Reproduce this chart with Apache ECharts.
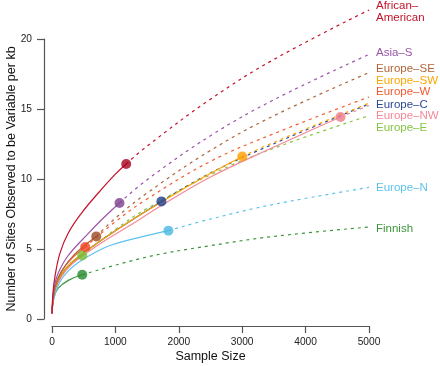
<!DOCTYPE html>
<html>
<head>
<meta charset="utf-8">
<script src="https://cdn.jsdelivr.net/npm/echarts@6/dist/echarts.min.js"></script>
<style>
html,body{margin:0;padding:0;background:#fff;}
#chart{width:440px;height:366px;}
</style>
</head>
<body>
<div id="chart"></div>
<script>
// Tick labels
const xTicks = [0, 1000, 2000, 3000, 4000, 5000];
const yTicks = [0, 5, 10, 15, 20];

// Population names (label text)
const populations = ['African–\nAmerican', 'Asia–S', 'Europe–SE', 'Europe–SW', 'Europe–W', 'Europe–C', 'Europe–NW', 'Europe–E', 'Europe–N', 'Finnish'];

// Observed curves [sample size, sites per kb]; last point is the dot
const africanAmericanObs = [[0,0.4],[15,1.86],[47,3.05],[126,4.71],[257,6.14],[467,7.57],[730,9.0],[992,10.31],[1170,11.07]];
const asiaSObs = [[0,0.4],[15,1.5],[40,2.4],[100,3.3],[250,4.5],[570,6.1],[830,7.3],[1065,8.29]];
const europeSEObs = [[0,0.4],[15,1.3],[50,2.3],[150,3.4],[350,4.6],[698,5.9]];
const europeSWObs = [[0,0.4],[15,1.3],[50,2.2],[150,3.2],[300,4.0],[480,4.65],[800,5.7],[1200,6.9],[1726,8.35],[2300,9.9],[3001,11.61]];
const europeWObs = [[0,0.4],[15,1.3],[50,2.3],[150,3.4],[330,4.4],[524,5.14]];
const europeCObs = [[0,0.4],[15,1.3],[50,2.2],[150,3.2],[300,4.0],[480,4.65],[800,5.7],[1200,6.9],[1726,8.4]];
const europeNWObs = [[0,0.4],[15,1.2],[50,2.1],[150,3.05],[300,3.85],[480,4.5],[800,5.5],[1200,6.6],[1726,8.1],[2500,10.14],[3500,12.28],[4551,14.43]];
const europeEObs = [[0,0.4],[15,1.3],[50,2.2],[150,3.2],[300,3.95],[477,4.54]];
const europeNObs = [[0,0.4],[15,1.1],[50,1.8],[130,2.7],[250,3.4],[420,4.05],[700,4.8],[950,5.3],[1400,5.85],[1836,6.31]];
const finnishObs = [[0,0.4],[10,1.0],[40,1.7],[99,2.21],[257,2.76],[477,3.16]];

// Projected (dashed) curves
const africanAmericanProj = [[1170,11.07],[1500,12.35],[2500,15.7],[3500,18.54],[5000,22.07]];
const asiaSProj = [[1065,8.29],[1500,9.95],[2500,13.09],[3500,15.66],[5000,18.9]];
const europeSEProj = [[698,5.9],[1000,7.2],[1500,9.0],[2500,12.04],[3500,14.52],[5000,17.6]];
const europeSWProj = [[3001,11.61],[3500,12.62],[5000,15.42]];
const europeWProj = [[524,5.14],[1000,6.95],[1500,8.57],[2500,11.26],[3500,13.24],[5000,15.86]];
const europeCProj = [[1726,8.4],[2500,10.43],[3500,12.52],[5000,15.36]];
const europeNWProj = [[4551,14.43],[5000,15.25]];
const europeEProj = [[477,4.54],[1000,6.4],[1500,7.9],[2500,10.3],[3500,12.2],[5000,14.52]];
const europeNProj = [[1836,6.31],[2500,7.14],[3500,8.19],[5000,9.4]];
const finnishProj = [[477,3.16],[1500,4.43],[2500,5.24],[3500,5.9],[5000,6.57]];

const observed = [africanAmericanObs, asiaSObs, europeSEObs, europeSWObs, europeWObs, europeCObs, europeNWObs, europeEObs, europeNObs, finnishObs];
const projected = [africanAmericanProj, asiaSProj, europeSEProj, europeSWProj, europeWProj, europeCProj, europeNWProj, europeEProj, europeNProj, finnishProj];

const lineColors = ['#c4122b', '#9a55a8', '#b0653a', '#ffa500', '#f25a2e', '#2d4a94', '#f28a98', '#86c543', '#5cc2ec', '#3c963c'];
const dotColors  = ['#a8001c', '#7d3f8e', '#9c4a26', '#ff9e00', '#f04422', '#1d3c8c', '#ee7d87', '#76bd33', '#4cb8e0', '#238a2a'];
const labelOffsets = [[0,2],[0,-2],[0,-4],[0,-22],[0,-5],[0,1],[0,10],[0,12],[0,0],[0,2]];
const drawOrder = [9, 8, 7, 6, 5, 4, 3, 2, 1, 0];

const series = [];
drawOrder.forEach(function (i) {
  series.push({
    type: 'line', data: observed[i], smooth: 0.4, showSymbol: false, clip: false,
    lineStyle: { color: lineColors[i], width: 1.2 }, silent: true, z: 2
  });
  series.push({
    type: 'line', data: projected[i], smooth: 0.4, showSymbol: false, clip: false,
    lineStyle: { color: lineColors[i], width: 1.2, type: [3, 4] }, silent: true, z: 2,
    endLabel: {
      show: true, formatter: populations[i], color: lineColors[i],
      fontFamily: 'Liberation Sans, Arial, sans-serif', fontSize: 11.5,
      distance: 7, offset: labelOffsets[i], lineHeight: 12, align: 'left'
    }
  });
  series.push({
    type: 'scatter', data: [observed[i][observed[i].length - 1]], symbol: 'circle', symbolSize: 10,
    itemStyle: { color: dotColors[i] }, silent: true, z: 3
  });
});

const chart = echarts.init(document.getElementById('chart'), null, { renderer: 'canvas' });
chart.setOption({
  animation: false,
  backgroundColor: '#ffffff',
  grid: { left: 52, right: 71, top: 39, bottom: 47, containLabel: false, outerBoundsMode: 'none' },
  xAxis: {
    type: 'value', min: xTicks[0], max: xTicks[xTicks.length - 1], interval: 1000,
    offset: 7,
    name: 'Sample Size', nameLocation: 'middle', nameGap: 24, nameMoveOverlap: false,
    nameTextStyle: { fontFamily: 'Liberation Sans, Arial, sans-serif', fontSize: 12.5, color: '#111' },
    axisLine: { show: true, onZero: false, lineStyle: { color: '#555', width: 1.2 } },
    axisTick: { show: true, length: 7, lineStyle: { color: '#555', width: 1.2 } },
    axisLabel: { fontFamily: 'Liberation Sans, Arial, sans-serif', fontSize: 10.2, color: '#222', margin: 11,
      formatter: function (v) { return String(v); } },
    splitLine: { show: false }
  },
  yAxis: {
    type: 'value', min: yTicks[0], max: yTicks[yTicks.length - 1], interval: 5,
    offset: 8,
    name: 'Number of Sites Observed to be Variable per kb', nameLocation: 'middle', nameGap: 26,
    nameMoveOverlap: false,
    nameTextStyle: { fontFamily: 'Liberation Sans, Arial, sans-serif', fontSize: 12.5, color: '#111' },
    axisLine: { show: true, onZero: false, lineStyle: { color: '#555', width: 1.2 } },
    axisTick: { show: true, length: 7, lineStyle: { color: '#555', width: 1.2 } },
    axisLabel: { fontFamily: 'Liberation Sans, Arial, sans-serif', fontSize: 10.2, color: '#222', margin: 12,
      formatter: function (v) { return String(v); } },
    splitLine: { show: false }
  },
  series: series
});
</script>
</body>
</html>
